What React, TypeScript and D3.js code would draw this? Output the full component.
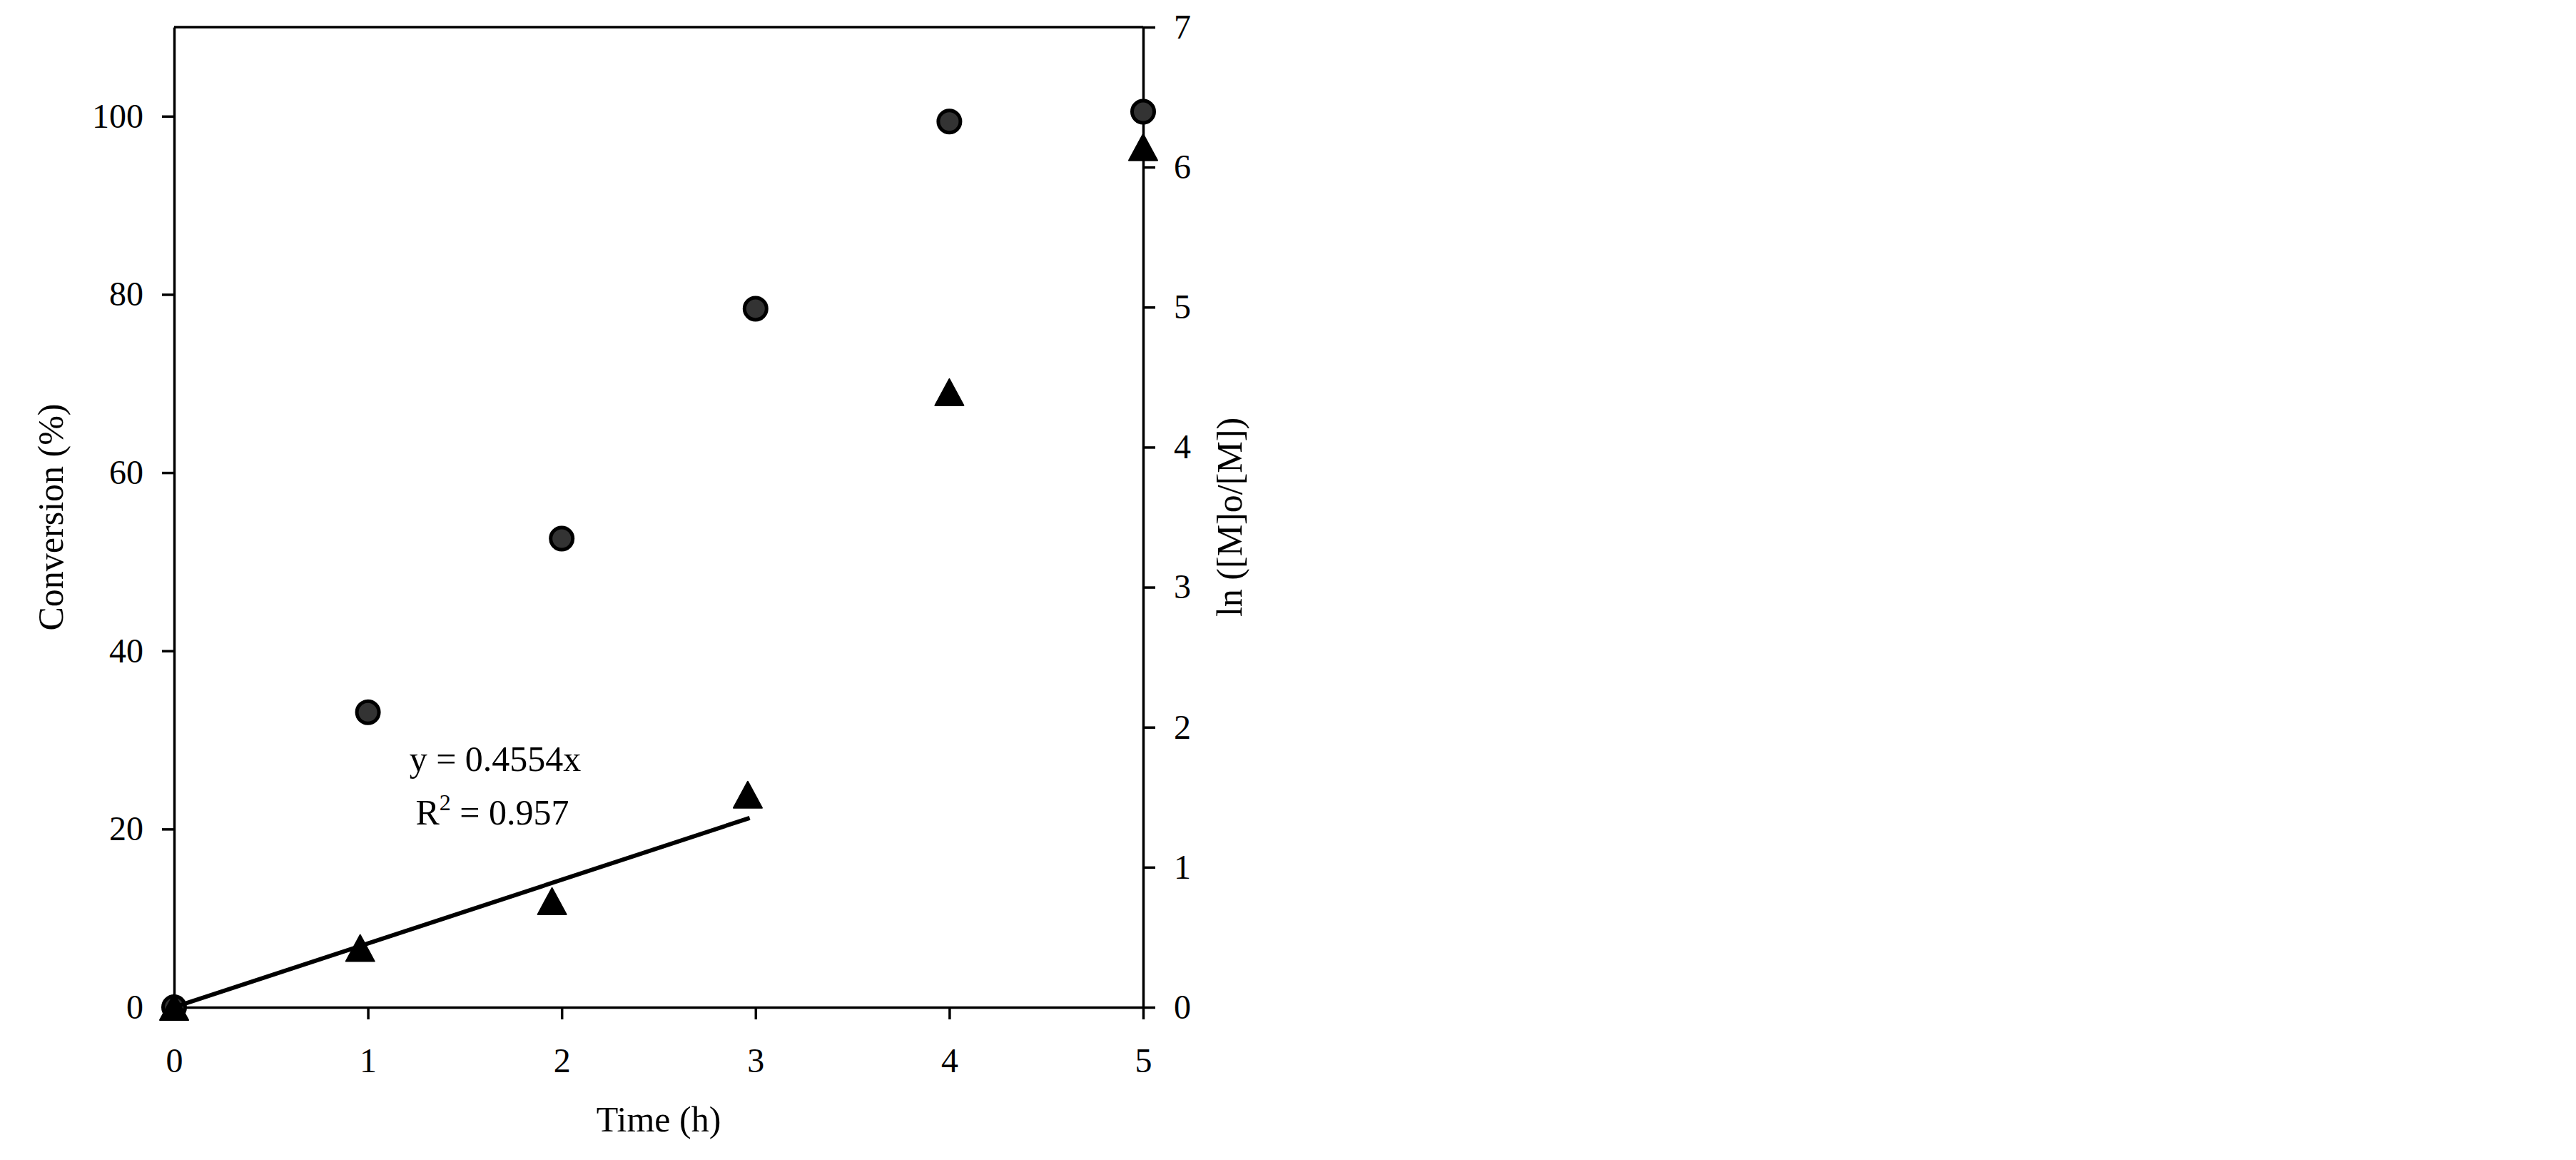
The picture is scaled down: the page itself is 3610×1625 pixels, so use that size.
import { useEffect, useRef } from "react"
import * as d3 from "d3"

// conversion (%) vs time, left axis
const convTime = [0, 1, 2, 3, 4, 5]
const conversion = [0, 33.1, 52.6, 78.4, 99.4, 100.5]

// ln([M]o/[M]) vs time, right axis
const lnTime = [0, 0.96, 1.95, 2.96, 4, 5]
const lnRatio = [0, 0.42, 0.755, 1.515, 4.39, 6.14]

// linear fit through origin, drawn over the first four points
const fitX = [0, 2.97]
const fitY = [0, 1.352]
const fitEq = "y = 0.4554x"
const fitR2 = "0.957"

const xTicks = [0, 1, 2, 3, 4, 5]
const leftTicks = [0, 20, 40, 60, 80, 100]
const rightTicks = [0, 1, 2, 3, 4, 5, 6, 7]

const W = 3610
const H = 1625
const FONT = "'Liberation Serif', 'Times New Roman', serif"

export default function App() {
  const svgRef = useRef<SVGSVGElement>(null)

  useEffect(() => {
    const svgEl = svgRef.current
    if (!svgEl) return
    const svg = d3.select(svgEl)
    svg.selectAll("*").remove()

    const m = { left: 244, right: 1602, top: 38, bottom: 1411 }

    const x = d3.scaleLinear().domain([0, 5]).range([m.left, m.right])
    const yL = d3.scaleLinear().domain([0, 110]).range([m.bottom, m.top])
    const yR = d3.scaleLinear().domain([0, 7]).range([m.bottom, m.top])

    const styleAxis = (g: d3.Selection<SVGGElement, unknown, null, undefined>) => {
      g.selectAll("path.domain").attr("stroke", "#000").attr("stroke-width", 3.5)
      g.selectAll(".tick line").attr("stroke", "#000").attr("stroke-width", 3.5)
      g.selectAll(".tick text").attr("fill", "#000").attr("font-size", 48).attr("font-family", FONT)
    }

    // top frame line
    svg.append("line")
      .attr("x1", m.left).attr("x2", m.right)
      .attr("y1", m.top).attr("y2", m.top)
      .attr("stroke", "#000").attr("stroke-width", 3.5)

    svg.append("g").attr("transform", `translate(${m.left},0)`)
      .call(d3.axisLeft(yL).tickValues(leftTicks).tickSize(17).tickSizeOuter(0).tickPadding(26).tickFormat(d3.format("d")))
      .call(styleAxis)

    svg.append("g").attr("transform", `translate(${m.right},0)`)
      .call(d3.axisRight(yR).tickValues(rightTicks).tickSize(17).tickSizeOuter(0).tickPadding(26).tickFormat(d3.format("d")))
      .call(styleAxis)

    svg.append("g").attr("transform", `translate(0,${m.bottom})`)
      .call(d3.axisBottom(x).tickValues(xTicks).tickSize(17).tickSizeOuter(0).tickPadding(40).tickFormat(d3.format("d")))
      .call(styleAxis)

    // axis titles
    svg.append("text")
      .attr("x", (m.left + m.right) / 2).attr("y", 1585)
      .attr("text-anchor", "middle").attr("font-family", FONT).attr("font-size", 50)
      .text("Time (h)")

    svg.append("text")
      .attr("transform", `translate(88,${(m.top + m.bottom) / 2}) rotate(-90)`)
      .attr("text-anchor", "middle").attr("font-family", FONT).attr("font-size", 50)
      .text("Conversion (%)")

    svg.append("text")
      .attr("transform", `translate(1740,${(m.top + m.bottom) / 2}) rotate(-90)`)
      .attr("text-anchor", "middle").attr("font-family", FONT).attr("font-size", 50)
      .text("ln ([M]o/[M])")

    // circles: conversion
    svg.append("g").selectAll("circle").data(convTime).join("circle")
      .attr("cx", (d) => x(d))
      .attr("cy", (_, i) => yL(conversion[i]))
      .attr("r", 15.5)
      .attr("fill", "#333")
      .attr("stroke", "#000")
      .attr("stroke-width", 5)

    // triangles: ln ratio
    const tri = (cx: number, cy: number) => {
      const p = d3.path()
      p.moveTo(cx, cy - 19)
      p.lineTo(cx + 20, cy + 18)
      p.lineTo(cx - 20, cy + 18)
      p.closePath()
      return p.toString()
    }
    svg.append("g").selectAll("path").data(lnTime).join("path")
      .attr("d", (d, i) => tri(x(d), yR(lnRatio[i])))
      .attr("fill", "#000")
      .attr("stroke", "#000")
      .attr("stroke-width", 2)
      .attr("stroke-linejoin", "round")

    // fit line
    const line = d3.line<number>().x((d) => x(d)).y((_, i) => yR(fitY[i]))
    svg.append("path")
      .attr("d", line(fitX) || "")
      .attr("fill", "none").attr("stroke", "#000").attr("stroke-width", 6)

    // fit annotation
    svg.append("text")
      .attr("x", 694).attr("y", 1080)
      .attr("text-anchor", "middle").attr("font-family", FONT).attr("font-size", 50)
      .text(fitEq)

    const r2 = svg.append("text")
      .attr("x", 690).attr("y", 1155)
      .attr("text-anchor", "middle").attr("font-family", FONT).attr("font-size", 50)
    r2.append("tspan").text("R")
    r2.append("tspan").attr("dy", -20).attr("font-size", 32).text("2")
    r2.append("tspan").attr("dy", 20).text(` = ${fitR2}`)
  }, [])

  return (
    <svg
      ref={svgRef}
      width={W}
      height={H}
      viewBox={`0 0 ${W} ${H}`}
      style={{ position: "absolute", left: 0, top: 0, background: "#fff" }}
    />
  )
}
